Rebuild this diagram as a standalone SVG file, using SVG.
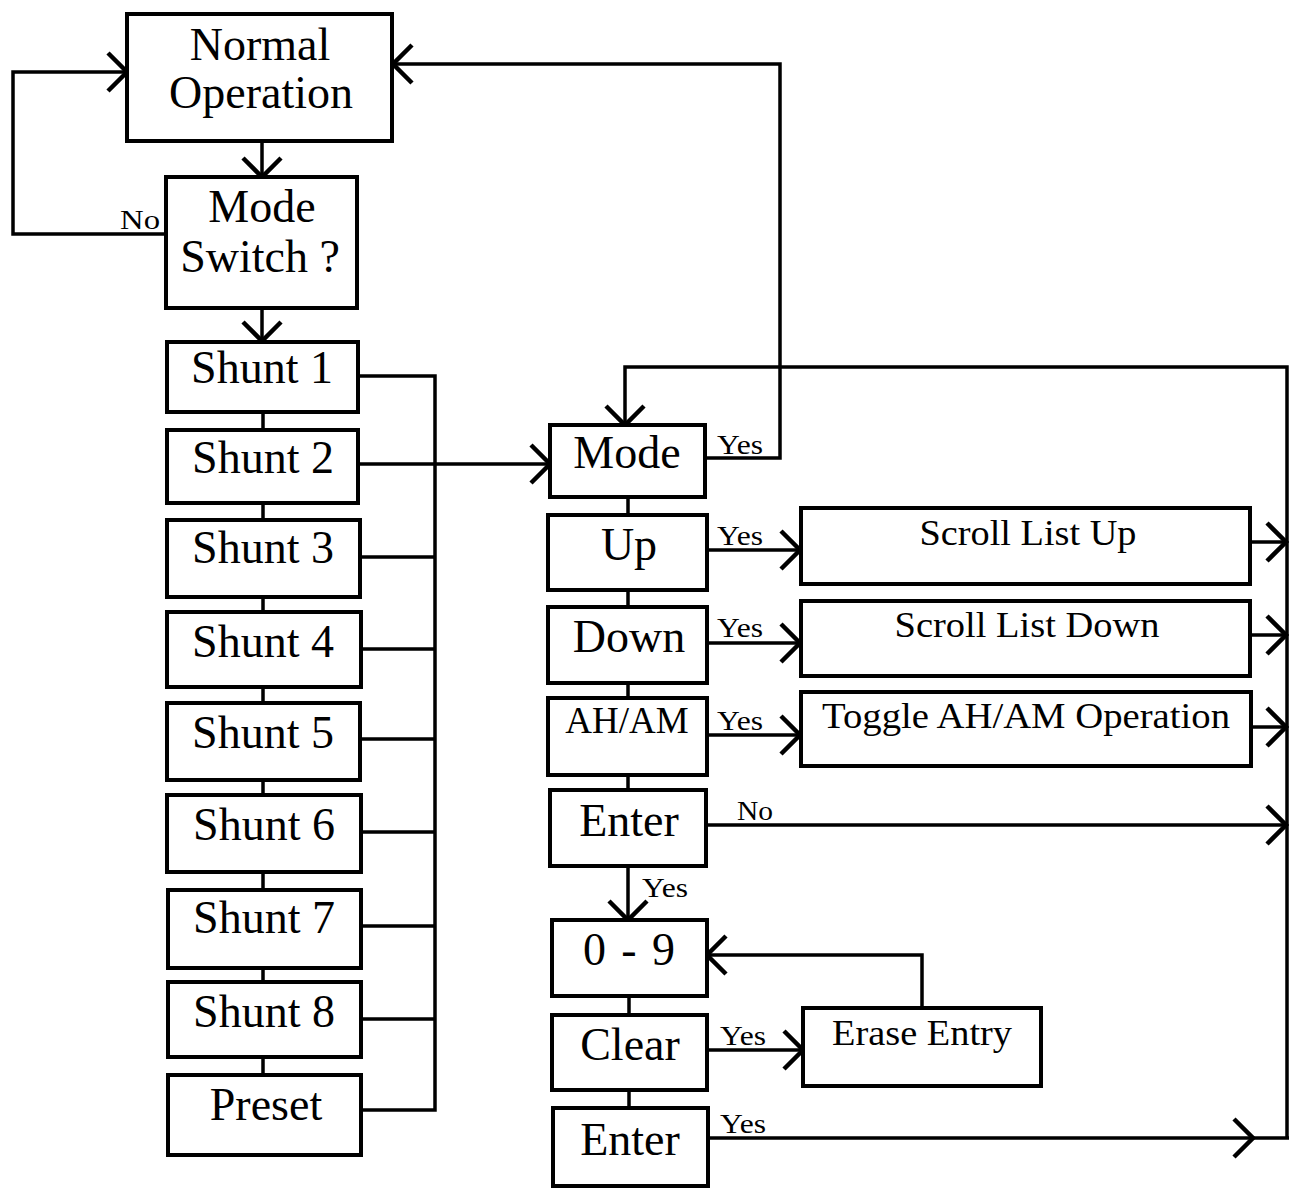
<svg xmlns="http://www.w3.org/2000/svg" width="1289" height="1188" viewBox="0 0 1289 1188">
<style>
.box{fill:#fff;stroke:#000;stroke-width:4}
.ln{fill:none;stroke:#000;stroke-width:3.5}
.t{font-family:"Liberation Serif","Times New Roman",serif;font-size:46px;fill:#000;text-anchor:middle}
.m{font-family:"Liberation Serif","Times New Roman",serif;font-size:36px;fill:#000;text-anchor:middle}
.s{font-family:"Liberation Serif","Times New Roman",serif;font-size:28px;fill:#000}
</style>
<defs>
<marker id="ah" markerUnits="userSpaceOnUse" markerWidth="44" markerHeight="48" viewBox="-24 -24 28 48" refX="0" refY="0" orient="auto">
<path d="M-19,-19 L0,0 L-19,19" fill="none" stroke="#000" stroke-width="4.5"/>
</marker>
</defs>
<rect width="1289" height="1188" fill="#fff"/>
<g id="connectors">
<path class="ln" d="M166,234 L13,234 L13,72 L127,72" marker-end="url(#ah)"/>
<path class="ln" d="M262,141 L262,177" marker-end="url(#ah)"/>
<path class="ln" d="M262,308 L262,341" marker-end="url(#ah)"/>
<path class="ln" d="M263,412 V430 M263,503 V520 M263,597 V612 M263,687 V703 M263,780 V795 M263,872 V890 M263,968 V982 M263,1057 V1075"/>
<path class="ln" d="M358,376 L435,376 L435,1110 L361,1110 M360,557 H435 M361,649 H435 M360,739 H435 M361,832 H435 M361,926 H435 M361,1019 H435"/>
<path class="ln" d="M358,464 L550,464" marker-end="url(#ah)"/>
<path class="ln" d="M705,458 L780,458 L780,64 L393,64" marker-end="url(#ah)"/>
<path class="ln" d="M1287,1138 L1287,367 L625,367 L625,425" marker-end="url(#ah)"/>
<path class="ln" d="M628,497 V515 M628,590 V607 M628,683 V698 M628,775 V790 M629,996 V1015 M629,1090 V1108"/>
<path class="ln" d="M707,550 L800,550" marker-end="url(#ah)"/>
<path class="ln" d="M707,643 L800,643" marker-end="url(#ah)"/>
<path class="ln" d="M707,735 L800,735" marker-end="url(#ah)"/>
<path class="ln" d="M1250,542 L1286,542" marker-end="url(#ah)"/>
<path class="ln" d="M1250,635 L1286,635" marker-end="url(#ah)"/>
<path class="ln" d="M1251,727 L1286,727" marker-end="url(#ah)"/>
<path class="ln" d="M706,825 L1286,825" marker-end="url(#ah)"/>
<path class="ln" d="M628,866 L628,920" marker-end="url(#ah)"/>
<path class="ln" d="M922,1008 L922,955 L707,955" marker-end="url(#ah)"/>
<path class="ln" d="M707,1050 L803,1050" marker-end="url(#ah)"/>
<path class="ln" d="M708,1138 L1253,1138" marker-end="url(#ah)"/>
<path class="ln" d="M1253,1138 L1289,1138"/>
<text class="s" x="120" y="229" textLength="40" lengthAdjust="spacingAndGlyphs">No</text>
<text class="s" x="717" y="454" textLength="46" lengthAdjust="spacingAndGlyphs">Yes</text>
<text class="s" x="717" y="545" textLength="46" lengthAdjust="spacingAndGlyphs">Yes</text>
<text class="s" x="717" y="637" textLength="46" lengthAdjust="spacingAndGlyphs">Yes</text>
<text class="s" x="717" y="730" textLength="46" lengthAdjust="spacingAndGlyphs">Yes</text>
<text class="s" x="737" y="820" textLength="36" lengthAdjust="spacingAndGlyphs">No</text>
<text class="s" x="642" y="897" textLength="46" lengthAdjust="spacingAndGlyphs">Yes</text>
<text class="s" x="720" y="1045" textLength="46" lengthAdjust="spacingAndGlyphs">Yes</text>
<text class="s" x="720" y="1133" textLength="46" lengthAdjust="spacingAndGlyphs">Yes</text>
</g>
<g id="normal-operation"><rect class="box" x="127" y="14" width="265" height="127"/><text class="t" x="260" y="60">Normal</text><text class="t" x="261" y="108">Operation</text></g>
<g id="mode-switch"><rect class="box" x="166" y="177" width="191" height="131"/><text class="t" x="262" y="222">Mode</text><text class="t" x="260" y="272">Switch ?</text></g>
<g id="shunt1"><rect class="box" x="167" y="342" width="191" height="70"/><text class="t" x="262" y="383">Shunt 1</text></g>
<g id="shunt2"><rect class="box" x="167" y="430" width="191" height="73"/><text class="t" x="263" y="473">Shunt 2</text></g>
<g id="shunt3"><rect class="box" x="167" y="520" width="193" height="77"/><text class="t" x="263" y="563">Shunt 3</text></g>
<g id="shunt4"><rect class="box" x="167" y="612" width="194" height="75"/><text class="t" x="263" y="657">Shunt 4</text></g>
<g id="shunt5"><rect class="box" x="167" y="703" width="193" height="77"/><text class="t" x="263" y="748">Shunt 5</text></g>
<g id="shunt6"><rect class="box" x="167" y="795" width="194" height="77"/><text class="t" x="264" y="840">Shunt 6</text></g>
<g id="shunt7"><rect class="box" x="168" y="890" width="193" height="78"/><text class="t" x="264" y="933">Shunt 7</text></g>
<g id="shunt8"><rect class="box" x="168" y="982" width="193" height="75"/><text class="t" x="264" y="1027">Shunt 8</text></g>
<g id="preset"><rect class="box" x="168" y="1075" width="193" height="80"/><text class="t" x="266" y="1120">Preset</text></g>
<g id="mode"><rect class="box" x="550" y="425" width="155" height="72"/><text class="t" x="627" y="468">Mode</text></g>
<g id="up"><rect class="box" x="548" y="515" width="159" height="75"/><text class="t" x="629" y="560">Up</text></g>
<g id="down"><rect class="box" x="548" y="607" width="159" height="76"/><text class="t" x="629" y="652">Down</text></g>
<g id="aham"><rect class="box" x="548" y="698" width="159" height="77"/><text class="t" x="627" y="733" style="font-size:37px">AH/AM</text></g>
<g id="enter1"><rect class="box" x="550" y="790" width="156" height="76"/><text class="t" x="629" y="836">Enter</text></g>
<g id="digits"><rect class="box" x="552" y="920" width="155" height="76"/><text class="t" x="629" y="965" textLength="92" lengthAdjust="spacing">0 - 9</text></g>
<g id="clear"><rect class="box" x="552" y="1015" width="155" height="75"/><text class="t" x="630" y="1060">Clear</text></g>
<g id="enter2"><rect class="box" x="553" y="1108" width="155" height="78"/><text class="t" x="630" y="1155">Enter</text></g>
<g id="scroll-up"><rect class="box" x="801" y="508" width="449" height="76"/><text class="m" x="1028" y="545" textLength="217" lengthAdjust="spacingAndGlyphs">Scroll List Up</text></g>
<g id="scroll-down"><rect class="box" x="801" y="601" width="449" height="75"/><text class="m" x="1027" y="637" textLength="265" lengthAdjust="spacingAndGlyphs">Scroll List Down</text></g>
<g id="toggle"><rect class="box" x="801" y="692" width="450" height="74"/><text class="m" x="1026" y="728" textLength="408" lengthAdjust="spacingAndGlyphs">Toggle AH/AM Operation</text></g>
<g id="erase"><rect class="box" x="803" y="1008" width="238" height="78"/><text class="m" x="922" y="1045" textLength="180" lengthAdjust="spacingAndGlyphs">Erase Entry</text></g>
</svg>
